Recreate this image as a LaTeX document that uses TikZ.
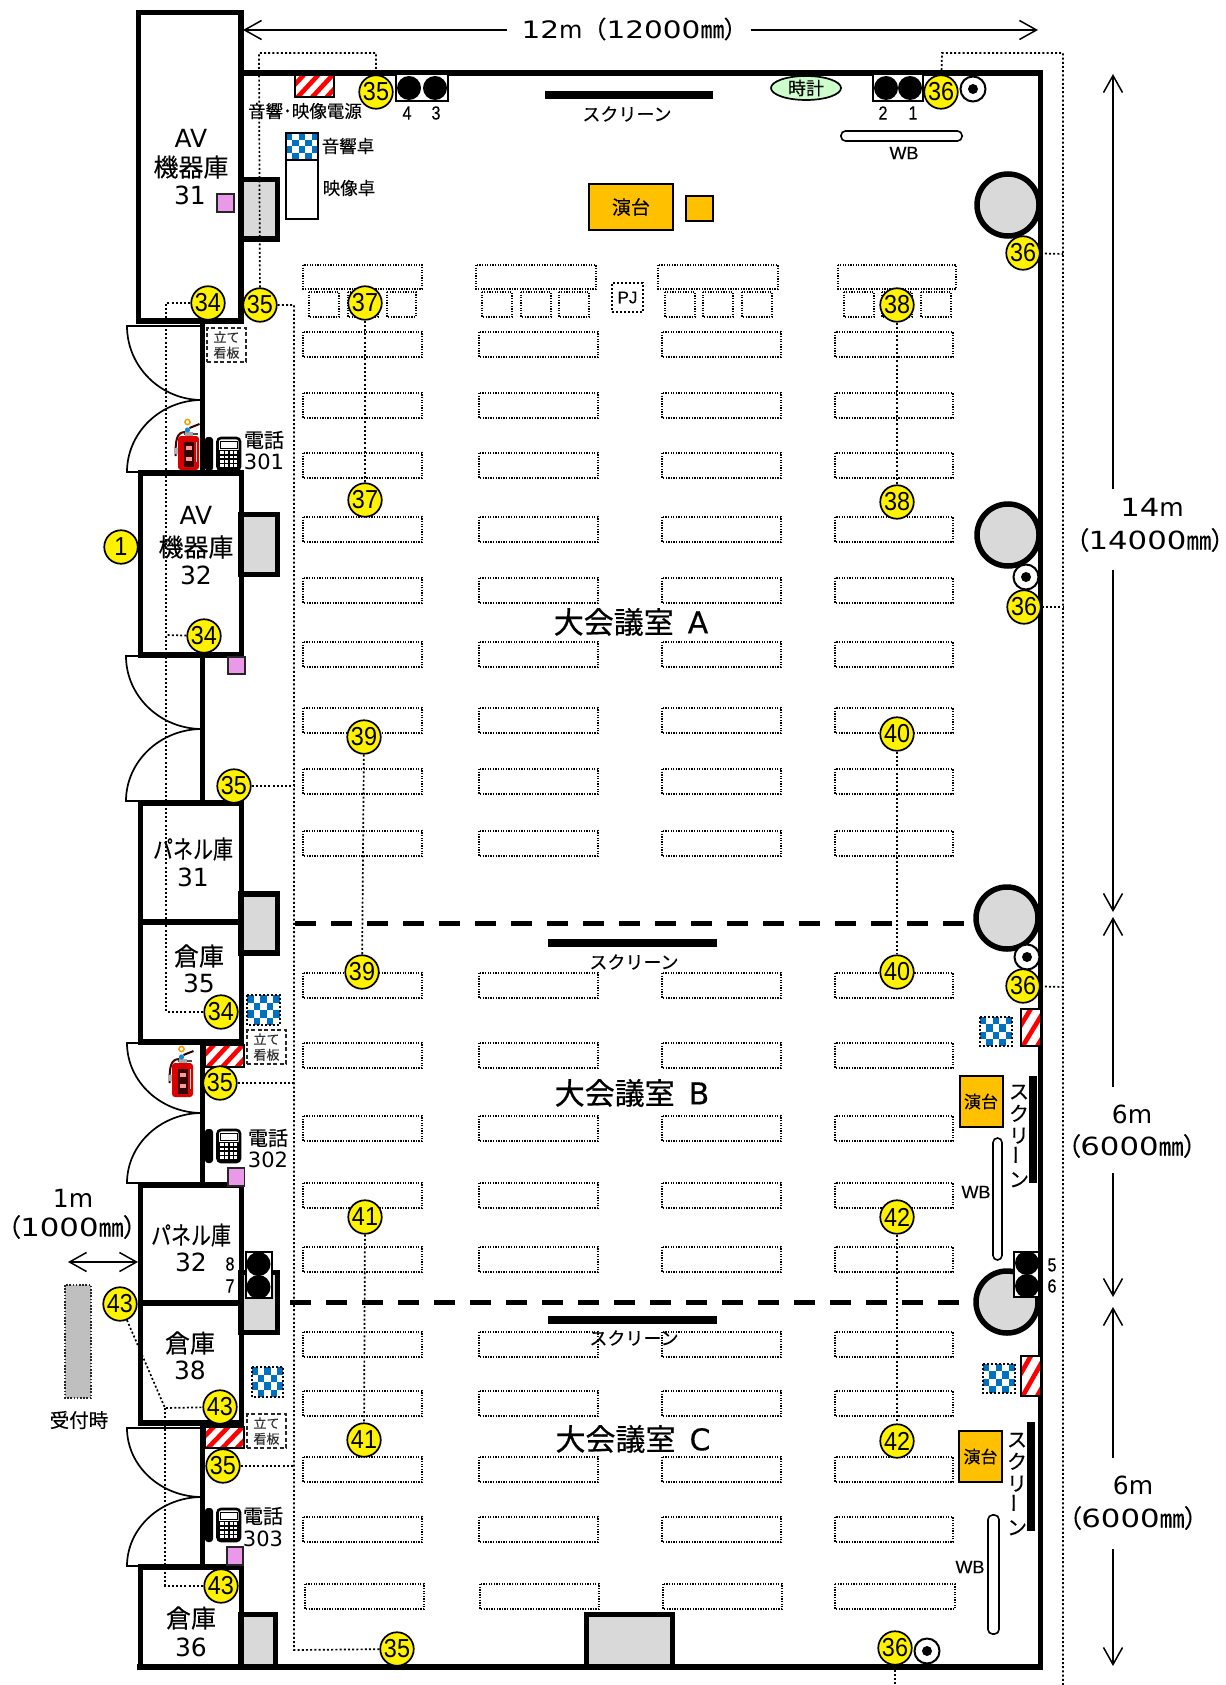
\documentclass[tikz,border=0pt]{standalone}
\usepackage{fontspec}
\usepackage{graphicx}
\usetikzlibrary{arrows.meta,shapes.geometric}
\setmainfont[FakeBold=0.2]{Noto Sans CJK JP}
\newfontfamily\latinw{DejaVu Sans}
\newfontfamily\latinws[FakeStretch=1.23]{DejaVu Sans}
\newfontfamily\numf[FakeStretch=0.9]{Liberation Sans}
\newfontfamily\numb[FakeStretch=0.85,FakeBold=0.3]{Liberation Sans}
\newfontfamily\wbf[FakeBold=0.3]{Liberation Sans}
\newfontfamily\cjknarrow[FakeStretch=0.8,FakeBold=0.2]{Noto Sans CJK JP}
\newfontfamily\hallf[FakeBold=0.6]{Noto Sans CJK JP}
\newfontfamily\halll[FakeBold=0.4]{DejaVu Sans}
\newfontfamily\parf[RawFeature={+palt},FakeBold=0.2]{Noto Sans CJK JP}
\newcommand{\fz}[1]{\fontsize{#1}{#1}\selectfont}
\newcommand{\lpar}{{\parf （}}
\newcommand{\rpar}{{\parf ）}}
\pgfdeclarelayer{backl}
\pgfdeclarelayer{leadl}
\pgfsetlayers{backl,leadl,main}
\tikzset{
  wall/.style={line width=5.5pt,line cap=rect,line join=miter},
  panelbox/.style={draw=black,line width=5.5pt,fill=black!15},
  bigcol/.style={draw=black,line width=5.5pt,fill=black!15},
  tbl/.style={draw=black,line width=1.2pt,dash pattern=on 1.3pt off 1.3pt},
  leader/.style={draw=black,line width=1.7pt,dash pattern=on 2pt off 2.2pt},
  doorline/.style={draw=black,line width=1.7pt},
  num/.style={circle,draw=black,line width=1.7pt,fill=yellow,minimum size=33.5pt,inner sep=0pt,font=\numf\fz{26}},
  txt/.style={inner sep=0pt,text=black,align=center},
  dimarrow/.style={line width=1.5pt,arrows={-Straight Barb[length=17pt,width=19pt,line width=1.5pt]}},
  dimboth/.style={line width=1.5pt,arrows={Straight Barb[length=17pt,width=19pt,line width=1.5pt]-Straight Barb[length=17pt,width=19pt,line width=1.5pt]}},
  camdot/.style={fill=black,circle,inner sep=0pt,minimum size=24pt},
  cambox/.style={draw=black,line width=1.5pt,fill=white},
  pinkbox/.style={draw=black!85,line width=1.8pt,fill={rgb,255:red,234;green,153;blue,232}},
  podium/.style={draw=black,line width=2pt,fill={rgb,255:red,255;green,192;blue,0}},
  board/.style={draw=black,line width=1.6pt,fill=white,rounded corners=4.5pt},
  standbox/.style={draw=black!85,line width=1.8pt,dash pattern=on 4pt off 2.5pt,fill=white,text=black!80,font=\fz{13},minimum width=39pt,minimum height=34pt,inner sep=0pt,align=center},
  thinscreen/.style={fill=black},
  boldnum/.style={inner sep=0pt,font=\numb\fz{19}},
  vscreen/.style={inner sep=0pt,align=center,font=\fontsize{20}{22}\selectfont},
}
\definecolor{chkblue}{RGB}{0,112,192}
% red hatch: x1 y1 x2 y2
\newcommand{\redhatch}[4]{%
  \fill[white] (#1,#2) rectangle (#3,#4);
  \begin{scope}
    \clip (#1,#2) rectangle (#3,#4);
    \foreach \k in {-6,...,10}
      \draw[red,line width=4.6pt] ({#1+\k*14.5},#4+3) -- ({#1+\k*14.5+26},#2-3);
  \end{scope}
  \draw[black,line width=1.6pt] (#1,#2) rectangle (#3,#4);
}
% blue checker: x1 y1 x2 y2 border style
\newcommand{\bluechk}[5]{%
  \fill[white] (#1,#2) rectangle (#3,#4);
  \foreach \i in {0,...,4}
    \foreach \j in {0,...,3}{
      \pgfmathtruncatemacro{\mm}{mod(\i+\j,2)}
      \ifnum\mm=0
        \fill[chkblue] ({#1+\i*(#3-#1)/5},{#2+\j*(#4-#2)/4}) rectangle ({#1+(\i+1)*(#3-#1)/5},{#2+(\j+1)*(#4-#2)/4});
      \fi
    }
  \draw[black,#5] (#1,#2) rectangle (#3,#4);
}
% door pair: left x, top y, mid y, bottom y
\newcommand{\doorpair}[4]{%
  \draw[doorline] (202,#2) -- (#1,#2) .. controls (#1,{#2+0.55*(#3-#2)}) and ({202-0.55*(202-#1)},#3) .. (202,#3);
  \draw[doorline] (202,#3) .. controls ({202-0.55*(202-#1)},#3) and (#1,{#3+0.45*(#4-#3)}) .. (#1,#4) -- (202,#4);
}
% phone: x of receiver left, y top
\newcommand{\phoneset}[2]{%
  \fill[black,rounded corners=3pt] (#1,#2) rectangle (#1+8,#2+34);
  \draw[black,line width=2.6pt,fill=white,rounded corners=3.5pt] (#1+12.5,#2+1) rectangle (#1+35,#2+33);
  \draw[black,line width=1pt,fill=white] (#1+15,#2+4) rectangle (#1+32.5,#2+11);
  \fill[black] (#1+14,#2+13) rectangle (#1+34,#2+32);
  \foreach \i in {0,...,3}
    \foreach \j in {0,...,3}
      \fill[white] ({#1+15.3+\i*4.6},{#2+14.2+\j*4.4}) rectangle ({#1+18.5+\i*4.6},{#2+17+\j*4.4});
}
% extinguisher: body centre x, bottom y
\newcommand{\extg}[2]{%
  \draw[black!70!red,line width=2pt] (#1-3,#2-38) .. controls (#1-12,#2-38) and (#1-13,#2-30) .. (#1-13,#2-14);
  \draw[black!80!red,line width=2pt] (#1+1,#2-42) -- (#1+11,#2-46);
  \draw[black!70,line width=1.5pt] (#1-5,#2-36) -- (#1+9,#2-36);
  \fill[black!30] (#1-13.5,#2-22) rectangle (#1-10,#2-16);
  \fill[gray!70] (#1-4,#2-38) rectangle (#1+4,#2-33);
  \fill[red!85!black,rounded corners=3pt] (#1-10.5,#2-34) rectangle (#1+10.5,#2);
  \fill[black!80!red] (#1-4.5,#2-28) rectangle (#1+5.5,#2-3);
  \fill[white!60!red] (#1-2.5,#2-24) rectangle (#1+3.5,#2-20);
  \fill[white!60!red] (#1-2.5,#2-13) rectangle (#1+3.5,#2-9);
  \fill[white!80!red] (#1+7,#2-28) rectangle (#1+8.5,#2-8);
  \fill[cyan!70!blue] (#1-1,#2-40) circle (2.6pt);
  \draw[orange!80!yellow,line width=1.5pt] (#1-1,#2-48) circle (2.6pt);
}
\newcommand{\standtxt}{立て\\[2.5pt]看板}
\newcommand{\vscr}{ス\\ク\\リ\\\rotatebox{90}{ー}\\ン}
\begin{document}
\begin{tikzpicture}[x=1pt,y=-1pt]
\useasboundingbox (0,0) rectangle (1225,1685);

\begin{pgfonlayer}{backl}
  \fill[white] (0,0) rectangle (1225,1685);
  % desks
  \foreach \yy in {332,393,453,517,578,642,708,769,831,973,1043,1116,1183,1247,1332,1391,1457,1517}
    \foreach \a/\b in {303/422,479/598,662/781,835/953}
      \draw[tbl] (\a,\yy) rectangle (\b,\yy+25);
  \foreach \a/\b in {305/424,480/599,663/782,835/955}
    \draw[tbl] (\a,1584) rectangle (\b,1609);
  \foreach \a/\b in {303/422,476/596,658/778,838/956}
    \draw[tbl] (\a,265) rectangle (\b,289);
  \foreach \a/\b in {309/339,348/378,387/416,482/512,521/551,559/589,665/695,703/733,742/772,844/874,882/912,921/951}
    \draw[tbl] (\a,292) rectangle (\b,317);
  % storage bays
  \draw[panelbox] (241,179.5) rectangle (277.5,239);
  \draw[panelbox] (241,514.5) rectangle (277.5,574.5);
  \draw[panelbox] (241,894) rectangle (277.5,953);
  \draw[panelbox] (241,1272.5) rectangle (277.5,1332.5);
  \draw[panelbox] (241,1614.5) rectangle (275.5,1667);
  \draw[panelbox] (586.5,1614.5) rectangle (672.5,1667);
  % doors
  \doorpair{127}{326}{400}{472}
  \doorpair{126}{656}{729}{801}
  \doorpair{127}{1043}{1113}{1183}
  \doorpair{127}{1428}{1497}{1566}
\end{pgfonlayer}

% columns on the right wall
\draw[bigcol] (1008,205) circle (31pt);
\draw[bigcol] (1008,535) circle (31pt);
\draw[bigcol] (1007,918) circle (31pt);
\draw[bigcol] (1007,1302) circle (31pt);

% room outline
\draw[wall] (241,73) -- (1040.5,73) -- (1040.5,1667) -- (140,1667);
\draw[wall] (138.5,12.5) rectangle (241,321);
\draw[wall] (140.5,473) rectangle (241.5,655);
\draw[wall] (140.5,803) rectangle (241.5,922);
\draw[wall] (140.5,922) rectangle (241.5,1042);
\draw[wall] (140.5,1185) rectangle (241.5,1303);
\draw[wall] (140.5,1303) rectangle (241.5,1423);
\draw[wall] (140.5,1567) rectangle (241.5,1667);
\draw[wall] (202.7,321) -- (202.7,473);
\draw[wall] (202.7,655) -- (202.7,803);
\draw[wall] (202.7,1042) -- (202.7,1185);
\draw[wall] (202.7,1423) -- (202.7,1567);

% partitions
\draw[line width=5pt,dash pattern=on 21pt off 15pt] (295,923) -- (968,923);
\draw[line width=5pt,dash pattern=on 21pt off 15pt] (290,1302) -- (963,1302);

% screens
\fill[thinscreen] (545,91) rectangle (713,99);
\fill[thinscreen] (548,939) rectangle (717,947);
\fill[thinscreen] (548,1316) rectangle (717,1324);
\fill[thinscreen] (1029,1076) rectangle (1037,1183);
\fill[thinscreen] (1027,1422) rectangle (1035,1531);

% hatch and checker furniture
\redhatch{295}{75}{334}{97}
\redhatch{205}{1045}{244}{1067}
\redhatch{205}{1427}{244}{1448}
\redhatch{1021}{1009}{1041}{1046}
\redhatch{1021}{1356}{1041}{1396}
\bluechk{286}{133}{318}{160}{line width=1.6pt}
\bluechk{247}{995}{280}{1025}{line width=1.6pt,dash pattern=on 2pt off 2pt}
\bluechk{252}{1367}{283}{1397}{line width=1.6pt,dash pattern=on 2pt off 2pt}
\bluechk{980}{1017}{1012}{1046}{line width=1.6pt,dash pattern=on 2pt off 2pt}
\bluechk{983}{1364}{1015}{1393}{line width=1.6pt,dash pattern=on 2pt off 2pt}
\draw[black,line width=1.6pt,fill=white] (286,160) rectangle (318,219);

% podiums
\node[podium,minimum width=84pt,minimum height=46pt,inner sep=0pt,font=\fz{19}] (pod1) at (631,207) {演台};
\draw[podium,line width=2.2pt] (686,196) rectangle (713,221);
\node[podium,minimum width=43pt,minimum height=51pt,inner sep=0pt,font=\fz{17}] (pod2) at (981,1101.5) {演台};
\node[podium,minimum width=43pt,minimum height=51pt,inner sep=0pt,font=\fz{17}] (pod3) at (980.5,1456.5) {演台};

% clock
\node[ellipse,draw=black,line width=1.7pt,fill={rgb,255:red,204;green,255;blue,204},minimum width=70pt,minimum height=24pt,inner sep=0pt,font=\fz{18}] (clock) at (806,88) {時計};

% whiteboards
\draw[board] (841,131) rectangle (962,141);
\draw[board] (993,1138) rectangle (1002,1260);
\draw[board] (988,1515) rectangle (999,1634);

% camera groups
\draw[cambox] (396,74) rectangle (448,101);
\node[camdot] (cam4) at (409,88) {};
\node[camdot] (cam3) at (435,88) {};
\draw[cambox] (873,74) rectangle (923,101);
\node[camdot] (cam2) at (886,88) {};
\node[camdot] (cam1) at (910,88) {};
\draw[cambox] (246,1252) rectangle (272,1298);
\node[camdot] (cam8) at (258.5,1264) {};
\node[camdot] (cam7) at (258.5,1287) {};
\draw[cambox] (1014,1252) rectangle (1039,1297);
\node[camdot] (cam5) at (1027,1263) {};
\node[camdot] (cam6) at (1027,1286) {};

% small speakers
\foreach \sx/\sy in {973/89,1026/577,1027/957,927/1651}{
  \draw[black,line width=2pt,fill=white] (\sx,\sy) circle (12.5pt);
  \fill[black] (\sx,\sy) circle (5pt);
}

% pink boxes
\draw[pinkbox] (217,194) rectangle (234,212);
\draw[pinkbox] (228,657) rectangle (245,674);
\draw[pinkbox] (228,1168) rectangle (244.5,1186);
\draw[pinkbox] (227,1547) rectangle (243,1565);

% stand boards
\node[standbox] (st1) at (226.5,345) {\standtxt};
\node[standbox] (st2) at (266.5,1047) {\standtxt};
\node[standbox] (st3) at (266.5,1431) {\standtxt};

% reception
\draw[fill={rgb,255:red,191;green,191;blue,191},draw=black!85,line width=1.4pt,dash pattern=on 1.6pt off 1.6pt] (65,1285) rectangle (91,1398);

% PJ
\node[draw=black,line width=1.8pt,dash pattern=on 2pt off 2pt,minimum width=31pt,minimum height=29pt,inner sep=0pt,font=\wbf\fz{17}] (pj) at (627.5,297.5) {PJ};

% phones and extinguishers
\phoneset{205}{437}
\phoneset{205}{1129}
\phoneset{205}{1508}
\extg{188.5}{470}
\extg{182.5}{1097}

% numbered markers
\node[num] (c35a) at (376,92) {35};
\node[num] (c34a) at (208,303) {34};
\node[num] (c35b) at (260,305) {35};
\node[num] (c37a) at (365,303) {37};
\node[num] (c38a) at (897,305) {38};
\node[num] (c37b) at (365,500) {37};
\node[num] (c38b) at (897,502) {38};
\node[num] (c1) at (121,547) {1};
\node[num] (c34b) at (204,636) {34};
\node[num] (c36a) at (941,92) {36};
\node[num] (c36b) at (1023,253) {36};
\node[num] (c36c) at (1024,607) {36};
\node[num] (c36d) at (1023,986) {36};
\node[num] (c35c) at (234,786) {35};
\node[num] (c39a) at (364,737) {39};
\node[num] (c40a) at (897,734) {40};
\node[num] (c39b) at (362,972) {39};
\node[num] (c40b) at (897,972) {40};
\node[num] (c34c) at (221,1012) {34};
\node[num] (c35d) at (220,1083) {35};
\node[num] (c41a) at (365,1217) {41};
\node[num] (c42a) at (897,1217) {42};
\node[num] (c43a) at (120,1304) {43};
\node[num] (c43b) at (220,1407) {43};
\node[num] (c35e) at (223,1466) {35};
\node[num] (c43c) at (221,1586) {43};
\node[num] (c41b) at (364,1440) {41};
\node[num] (c42b) at (897,1441) {42};
\node[num] (c35f) at (397,1649) {35};
\node[num] (c36e) at (895,1648) {36};

% bend points of the leaders
\coordinate (k1) at (259,53);
\coordinate (k2) at (376,53);
\coordinate (k3) at (294,305);
\coordinate (k4) at (294,1650);
\coordinate (k5) at (294,786);
\coordinate (k6) at (294,1083);
\coordinate (k7) at (294,1466);
\coordinate (k8) at (166,303);
\coordinate (k9) at (166,1012);
\coordinate (k10) at (166,635);
\coordinate (k11) at (165,1408);
\coordinate (k12) at (165,1586);
\coordinate (k13) at (942,53);
\coordinate (k14) at (1063,53);
\coordinate (k15) at (1063,1685);
\coordinate (k16) at (1063,254);
\coordinate (k17) at (1063,607);
\coordinate (k18) at (1063,987);
\coordinate (k19) at (895,1685);

\begin{pgfonlayer}{leadl}
  \draw[leader] (c35b) -- (k1) -- (k2) -- (c35a);
  \draw[leader] (c35b) -- (k3) -- (k4) -- (c35f);
  \draw[leader] (c35c) -- (k5);
  \draw[leader] (c35d) -- (k6);
  \draw[leader] (c35e) -- (k7);
  \draw[leader] (c34a) -- (k8) -- (k9) -- (c34c);
  \draw[leader] (c34b) -- (k10);
  \draw[leader] (c43a) -- (k11) -- (c43b);
  \draw[leader] (k11) -- (k12) -- (c43c);
  \draw[leader] (c36a) -- (k13) -- (k14) -- (k15);
  \draw[leader] (c36b) -- (k16);
  \draw[leader] (c36c) -- (k17);
  \draw[leader] (c36d) -- (k18);
  \draw[leader] (c36e) -- (k19);
  \draw[leader] (c37a) -- (c37b);
  \draw[leader] (c38a) -- (c38b);
  \draw[leader] (c39a) -- (c39b);
  \draw[leader] (c40a) -- (c40b);
  \draw[leader] (c41a) -- (c41b);
  \draw[leader] (c42a) -- (c42b);
\end{pgfonlayer}

% room names
\node[txt,font=\fz{25}] (t1a) at (191,138) {\latinw AV};
\node[txt,font=\fz{25}] (t1b) at (191,167) {機器庫};
\node[txt,font=\fz{25}] (t1c) at (190,195) {\latinw 31};
\node[txt,font=\fz{25}] (t2a) at (196,515) {\latinw AV};
\node[txt,font=\fz{25}] (t2b) at (196,547) {機器庫};
\node[txt,font=\fz{25}] (t2c) at (196,575) {\latinw 32};
\node[txt,font=\cjknarrow\fz{25}] (t3a) at (193,849) {パネル庫};
\node[txt,font=\fz{25}] (t3b) at (193,877) {\latinw 31};
\node[txt,font=\fz{25}] (t4a) at (199,956) {倉庫};
\node[txt,font=\fz{25}] (t4b) at (199,983) {\latinw 35};
\node[txt,font=\cjknarrow\fz{25}] (t5a) at (191,1235) {パネル庫};
\node[txt,font=\fz{25}] (t5b) at (191,1262) {\latinw 32};
\node[txt,font=\fz{25}] (t6a) at (190,1343) {倉庫};
\node[txt,font=\fz{25}] (t6b) at (190,1370) {\latinw 38};
\node[txt,font=\fz{25}] (t7a) at (191,1618) {倉庫};
\node[txt,font=\fz{25}] (t7b) at (191,1647) {\latinw 36};

% hall names
\node[txt,font=\hallf\fz{30}] (hallA) at (631,622) {大会議室\kern14pt{\halll A}};
\node[txt,font=\hallf\fz{30}] (hallB) at (632,1093) {大会議室\kern14pt{\halll B}};
\node[txt,font=\hallf\fz{30}] (hallC) at (633,1439) {大会議室\kern14pt{\halll C}};

% equipment labels
\node[txt,font=\fz{17.5}] (lpow) at (305,111) {音響･映像電源};
\node[txt,font=\fz{17.5}] (laud) at (348,146) {音響卓};
\node[txt,font=\fz{17.5}] (lvid) at (349,188) {映像卓};
\node[txt,font=\fz{18}] (lsc1) at (627,114) {スクリーン};
\node[txt,font=\fz{18}] (lsc2) at (634,962) {スクリーン};
\node[txt,font=\fz{18}] (lsc3) at (634,1338) {スクリーン};
\node[vscreen] (lsc4) at (1019,1136) {\vscr};
\node[vscreen] (lsc5) at (1017,1484) {\vscr};
\node[txt,font=\wbf\fz{18}] (lwb1) at (904,153) {WB};
\node[txt,font=\wbf\fz{18}] (lwb2) at (976,1192) {WB};
\node[txt,font=\wbf\fz{18}] (lwb3) at (970,1567) {WB};
\node[boldnum] (n4) at (407,113) {4};
\node[boldnum] (n3) at (436,113) {3};
\node[boldnum] (n2) at (883,113) {2};
\node[boldnum] (n1) at (913,113) {1};
\node[boldnum] (n8) at (230,1264) {8};
\node[boldnum] (n7) at (230,1286) {7};
\node[boldnum] (n5) at (1052,1265) {5};
\node[boldnum] (n6) at (1052,1286) {6};
\node[txt,font=\fz{20}] (tel1) at (264,440) {電話};
\node[txt,font=\latinw\fz{21}] (tel1n) at (264,462) {301};
\node[txt,font=\fz{20}] (tel2) at (268,1138) {電話};
\node[txt,font=\latinw\fz{21}] (tel2n) at (268,1160) {302};
\node[txt,font=\fz{20}] (tel3) at (263,1516) {電話};
\node[txt,font=\latinw\fz{21}] (tel3n) at (263,1539) {303};
\node[txt,font=\fz{19.5}] (recv) at (79,1420) {受付時};

% dimensions
\node[txt,font=\fz{24}] (d12) at (629,29) {{\latinws 12}{\latinw m}（{\latinws 12000}㎜\rpar};
\coordinate (d12l) at (507,30);
\coordinate (d12la) at (243,30);
\coordinate (d12r) at (751,30);
\coordinate (d12ra) at (1038,30);
\draw[dimarrow] (d12l) -- (d12la);
\draw[dimarrow] (d12r) -- (d12ra);
\node[txt,font=\fz{25}] (d14a) at (1152,507) {{\latinws 14}{\latinw m}};
\node[txt,font=\fz{25}] (d14b) at (1150,540) {\lpar{\latinws 14000}㎜\rpar};
\coordinate (v1) at (1113,489);
\coordinate (v1a) at (1113,74);
\coordinate (v2) at (1113,570);
\coordinate (v2a) at (1113,912);
\draw[dimarrow] (v1) -- (v1a);
\draw[dimarrow] (v2) -- (v2a);
\node[txt,font=\fz{25}] (d6a) at (1132,1114) {\latinw 6m};
\node[txt,font=\fz{25}] (d6b) at (1132,1146) {\lpar{\latinws 6000}㎜\rpar};
\coordinate (v3) at (1113,1087);
\coordinate (v3a) at (1113,917);
\coordinate (v4) at (1113,1173);
\coordinate (v4a) at (1113,1297);
\draw[dimarrow] (v3) -- (v3a);
\draw[dimarrow] (v4) -- (v4a);
\node[txt,font=\fz{25}] (d6c) at (1133,1485) {\latinw 6m};
\node[txt,font=\fz{25}] (d6d) at (1133,1518) {\lpar{\latinws 6000}㎜\rpar};
\coordinate (v5) at (1113,1458);
\coordinate (v5a) at (1113,1307);
\coordinate (v6) at (1113,1549);
\coordinate (v6a) at (1113,1666);
\draw[dimarrow] (v5) -- (v5a);
\draw[dimarrow] (v6) -- (v6a);
\node[txt,font=\fz{25}] (d1a) at (73,1198) {\latinw 1m};
\node[txt,font=\fz{25}] (d1b) at (72,1227) {\lpar{\latinws 1000}㎜\rpar};
\coordinate (h1) at (68,1262);
\coordinate (h2) at (138,1262);
\draw[dimboth] (h1) -- (h2);
\end{tikzpicture}
\end{document}
